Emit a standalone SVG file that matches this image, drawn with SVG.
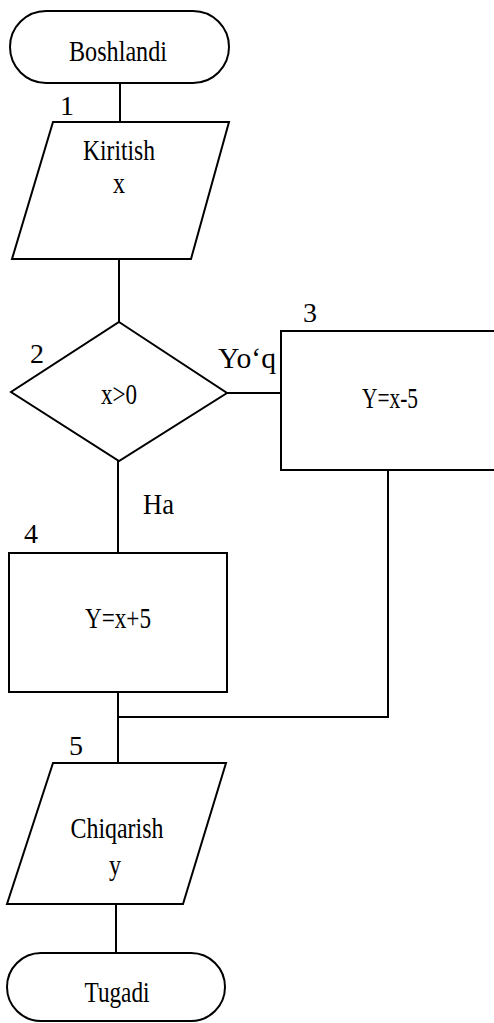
<svg xmlns="http://www.w3.org/2000/svg" width="494" height="1023" viewBox="0 0 494 1023">
<style>
.s{fill:#fff;stroke:#000;stroke-width:2}
.c{fill:none;stroke:#000;stroke-width:2}
text{font-family:"Liberation Serif","Times New Roman",serif;fill:#000;font-size:30px}
.m{text-anchor:middle}
.n{font-size:28px}
</style>
<rect width="494" height="1023" fill="#fff"/>
<g id="connectors">
<line class="c" x1="120" y1="83" x2="120" y2="122"/>
<line class="c" x1="119" y1="259" x2="119" y2="322"/>
<line class="c" x1="227" y1="393" x2="281" y2="393"/>
<line class="c" x1="118" y1="461" x2="118" y2="553"/>
<polyline class="c" points="388,470 388,717 118,717"/>
<line class="c" x1="118" y1="692" x2="118" y2="763"/>
<line class="c" x1="116" y1="904" x2="116" y2="953"/>
<text x="218" y="368" textLength="58" lengthAdjust="spacingAndGlyphs">Yo‘q</text>
<text x="143" y="514" textLength="31" lengthAdjust="spacingAndGlyphs">Ha</text>
</g>
<g id="start">
<rect class="s" x="10" y="11" width="219" height="72" rx="36" ry="36"/>
<text class="m" x="118" y="61" textLength="98" lengthAdjust="spacingAndGlyphs">Boshlandi</text>
</g>
<g id="input">
<polygon class="s" points="53,122 229,122 191,259 12,259"/>
<text class="n m" x="67" y="115">1</text>
<text class="m" x="119" y="160" textLength="72" lengthAdjust="spacingAndGlyphs">Kiritish</text>
<text class="m" x="119" y="193" textLength="12" lengthAdjust="spacingAndGlyphs">x</text>
</g>
<g id="decision">
<polygon class="s" points="119,322 227,393 119,461 11,392"/>
<text class="n m" x="37" y="363">2</text>
<text class="m" x="119" y="404" textLength="36" lengthAdjust="spacingAndGlyphs">x&gt;0</text>
</g>
<g id="process3">
<rect class="s" x="281" y="331" width="230" height="139"/>
<text class="n m" x="310" y="322">3</text>
<text class="m" x="390" y="408" font-size="26" textLength="56" lengthAdjust="spacingAndGlyphs">Y=x-5</text>
</g>
<g id="process4">
<rect class="s" x="9" y="553" width="218" height="139"/>
<text class="n m" x="31" y="543">4</text>
<text class="m" x="118" y="628" textLength="66" lengthAdjust="spacingAndGlyphs">Y=x+5</text>
</g>
<g id="output">
<polygon class="s" points="53,763 226,763 183,904 7,904"/>
<text class="n m" x="76" y="755">5</text>
<text class="m" x="117" y="838" textLength="93" lengthAdjust="spacingAndGlyphs">Chiqarish</text>
<text class="m" x="115" y="875" textLength="12" lengthAdjust="spacingAndGlyphs">y</text>
</g>
<g id="end">
<rect class="s" x="7" y="953" width="218" height="68" rx="34" ry="34"/>
<text class="m" x="117" y="1002" textLength="65" lengthAdjust="spacingAndGlyphs">Tugadi</text>
</g>
</svg>
